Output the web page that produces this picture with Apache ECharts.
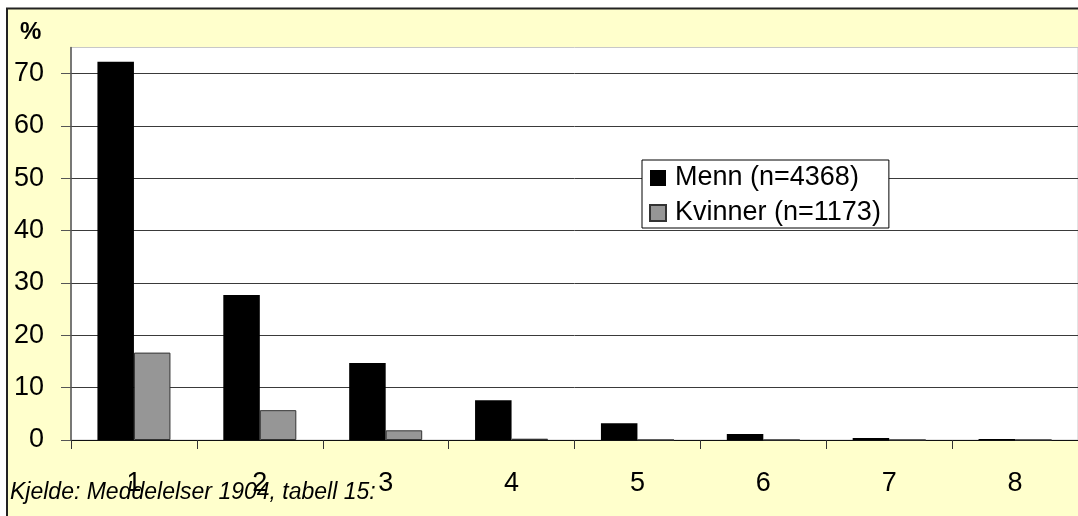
<!DOCTYPE html>
<html>
<head>
<meta charset="utf-8">
<script src="https://cdn.jsdelivr.net/npm/echarts@6/dist/echarts.min.js"></script>
<style>
html,body{margin:0;padding:0;background:#fff;}
#c{width:1078px;height:516px;}
</style>
</head>
<body>
<div id="c"></div>
<script>
const categories = ['1','2','3','4','5','6','7','8'];
const menn = [72.3, 27.7, 14.7, 7.6, 3.2, 1.15, 0.4, 0.2];
const kvinner = [16.7, 5.7, 1.85, 0.25, 0, 0, 0, 0];
const yTicks = [0, 10, 20, 30, 40, 50, 60, 70];
const seriesNames = ['Menn (n=4368)', 'Kvinner (n=1173)'];
const sourceText = 'Kjelde: Meddelelser 1904, tabell 15:';

const chart = echarts.init(document.getElementById('c'));
const font = '"Liberation Sans", Arial, sans-serif';
chart.setOption({
  animation: false,
  backgroundColor: '#fff',
  graphic: [
    {type: 'rect', z: -10, shape: {x: 7, y: 8.5, width: 1200, height: 700},
     style: {fill: '#FFFFCC', stroke: '#222', lineWidth: 2}},
    {type: 'text', left: 20, top: 20, style: {text: '%', font: 'bold 24px ' + font, fill: '#000'}},
    {type: 'text', left: 10, top: 481, style: {text: sourceText, font: 'italic 23px ' + font, fill: '#000'}}
  ],
  grid: {left: 71, right: -5, top: 47.5, bottom: 76, show: true, backgroundColor: '#fff', borderColor: '#c8c8c8', borderWidth: 1},
  legend: {
    orient: 'vertical', left: 642, top: 160,
    backgroundColor: '#fff', borderColor: '#000', borderWidth: 1,
    padding: [4, 8, 1, 7], itemGap: 7, itemWidth: 16, itemHeight: 16,
    icon: 'rect',
    textStyle: {fontFamily: font, fontSize: 27, color: '#000', lineHeight: 28, padding: [0, 0, 0, 4]},
    data: seriesNames
  },
  xAxis: {
    type: 'category', data: categories,
    axisLine: {lineStyle: {color: '#111', width: 1}},
    axisTick: {show: true, length: 9, lineStyle: {color: '#333'}},
    axisLabel: {fontFamily: font, fontSize: 27, color: '#000', margin: 30}
  },
  yAxis: {
    type: 'value', min: 0, max: 75, interval: 10,
    axisLine: {show: true, lineStyle: {color: '#555', width: 1.5}},
    axisTick: {show: true, length: 10, lineStyle: {color: '#555'}, customValues: yTicks},
    axisLabel: {fontFamily: font, fontSize: 27, color: '#000', margin: 27, customValues: yTicks},
    splitLine: {show: true, lineStyle: {color: '#3a3a3a', width: 1}}
  },
  series: [
    {name: seriesNames[0], type: 'bar', data: menn, barGap: '0%', barCategoryGap: '42%',
     itemStyle: {color: '#000'}},
    {name: seriesNames[1], type: 'bar', data: kvinner,
     itemStyle: {color: '#969696', borderColor: '#333', borderWidth: 1}}
  ]
});
</script>
</body>
</html>
